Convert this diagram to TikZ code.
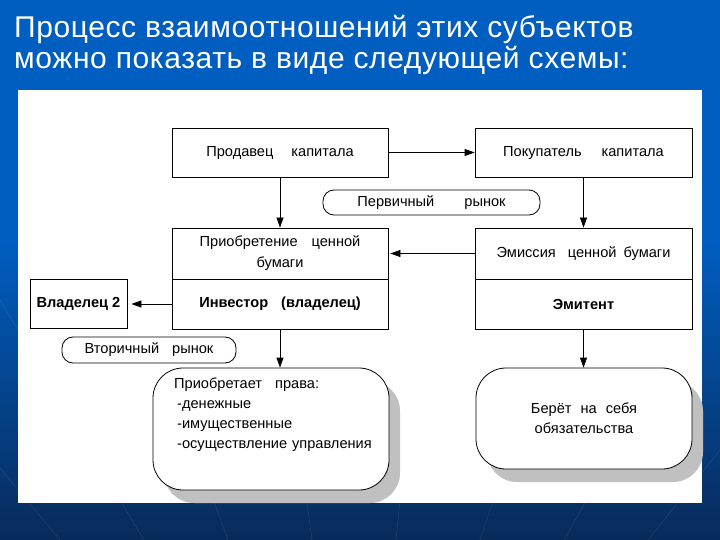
\documentclass[tikz,border=0pt]{standalone}
\usepackage{fontspec}
\setmainfont{Liberation Sans}
\usetikzlibrary{arrows.meta,positioning,shadows}
\definecolor{bgtop}{RGB}{0,94,192}
\definecolor{bgdark}{RGB}{8,42,90}
\definecolor{shadowgray}{RGB}{192,192,192}
\def\gap#1{\hspace{#1pt}}

\begin{document}
\begin{tikzpicture}[x=1pt,y=-1pt,
		box/.style={draw, line width=0.8pt, fill=white, inner sep=0pt, align=center, font=\fontsize{14.6}{21}\selectfont},
		market/.style={box, rounded corners=11pt},
		bubble/.style={box, rounded corners=30pt, drop shadow={shadow xshift=11pt, shadow yshift=-13pt, fill=shadowgray, opacity=1}},
		heading/.style={anchor=base west, inner sep=0pt, text=white, font=\fontsize{30}{31}\selectfont\addfontfeature{LetterSpace=2}},
		link/.style={line width=0.8pt, -{Triangle[length=10pt,width=7pt]}}]
			%%%%% START %%%%%
			\useasboundingbox (0,0) rectangle (720,540);
			\fill[bgtop] (0,0) rectangle (720,540);
			\shade[top color=bgtop, bottom color=bgdark] (0,240) rectangle (720,540);
			\foreach \x in {-700,-560,...,1420}
				\draw[white, opacity=0.09, line width=0.6pt] (360,900) -- (\x,300);
			
			\node[heading] (title1) at (14,38) {Процесс взаимоотношений этих субъектов};
			\node[heading] (title2) at (14,69) {можно показать в виде следующей схемы:};
			
			\fill[white] (18,90) rectangle (702,503);
			
			\node[box, minimum width=216pt, minimum height=49pt] (seller) at (280,152.5) {Продавец\gap{18}капитала};
			\node[box, minimum width=217pt, minimum height=49pt] (buyer) at (583.5,152.5) {Покупатель\gap{20}капитала};
			\node[market, minimum width=217pt, minimum height=25pt] (primary) at (431.5,202.5) {Первичный\gap{30}рынок};
			
			\node[box, minimum width=216pt, minimum height=51pt] (acquire) at (280,253.5) {Приобретение\gap{14}ценной\\бумаги};
			\node[box, minimum width=216pt, minimum height=50pt, font=\fontsize{14.6}{21}\selectfont\bfseries] (investor) at (280,304) {Инвестор\gap{13}(владелец)};
			\node[box, minimum width=217pt, minimum height=51pt] (emission) at (583.5,253.5) {Эмиссия\gap{12}ценной\gap{7}бумаги};
			\node[box, minimum width=217pt, minimum height=50pt, font=\fontsize{14.6}{21}\selectfont\bfseries] (issuer) at (583.5,304) {Эмитент};
			
			\node[box, minimum width=97pt, minimum height=49pt, font=\fontsize{14.6}{21}\selectfont\bfseries] (owner) at (78.5,304) {Владелец 2};
			\node[market, minimum width=174pt, minimum height=26pt] (secondary) at (149,350) {Вторичный\gap{13}рынок};
			
			\node[bubble, minimum width=236pt, minimum height=122pt] (rights) at (271,429) {};
			\node[anchor=north west, inner sep=0pt, align=left, font=\fontsize{14.6}{19.7}\selectfont] (rightstext) at (174,378) {Приобретает\gap{13}права:\\\gap{3}-денежные\\\gap{3}-имущественные\\\gap{3}-осуществление\gap{5}управления};
			\node[bubble, minimum width=216pt, minimum height=101pt, font=\fontsize{14.6}{20}\selectfont] (duties) at (584,418.5) {Берёт\gap{9}на\gap{9}себя\\обязательства};
			
			\draw[link] (seller) -- (buyer);
			\draw[link] (seller) -- (acquire);
			\draw[link] (buyer) -- (emission);
			\draw[link, shorten >=2pt] (emission) -- (acquire);
			\draw[link, shorten >=4pt] (investor) -- (owner);
			\draw[link] (investor.south) -- (investor.south |- rights.north);
			\draw[link] (issuer.south) -- (issuer.south |- duties.north);
			%%%%% END %%%%%
		\end{tikzpicture}
\end{document}
